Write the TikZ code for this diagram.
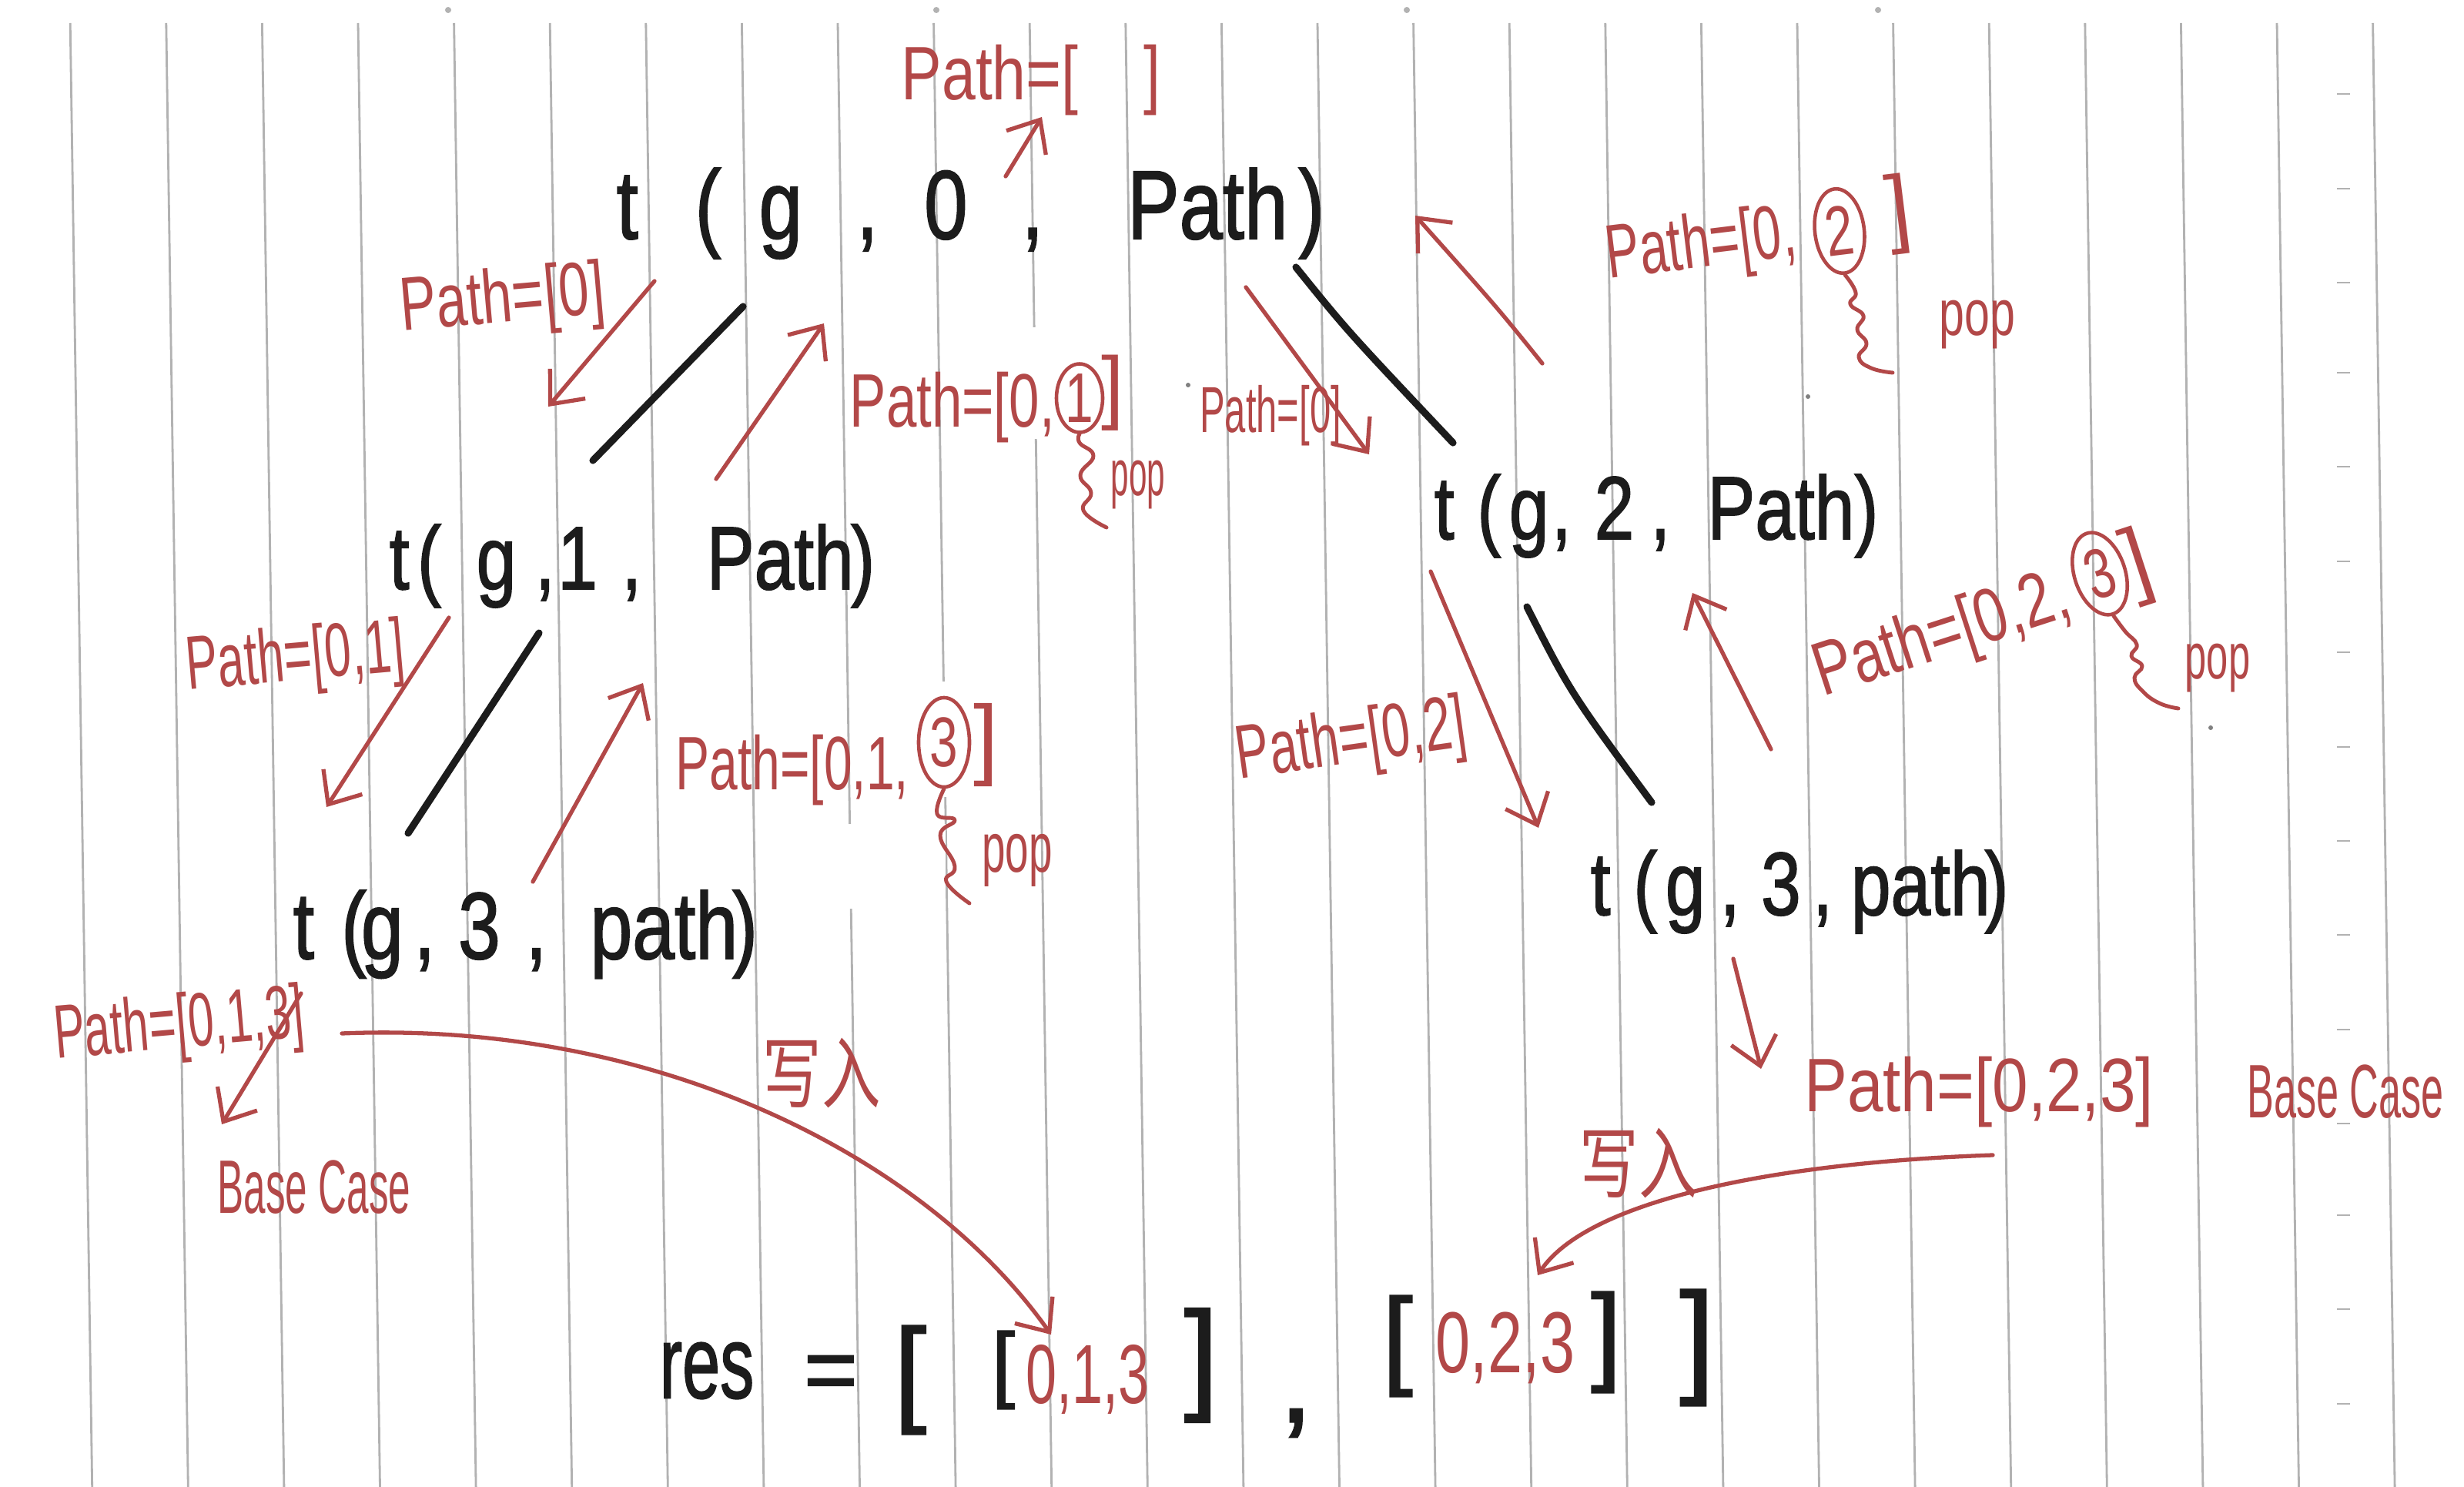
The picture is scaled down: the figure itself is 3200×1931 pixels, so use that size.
\documentclass[tikz,border=0pt]{standalone}
\usepackage{graphicx}
\usepackage{fontspec}
\setmainfont{Liberation Sans}
\newfontfamily\inkfont[FakeBold=1.6]{Liberation Sans}
\newfontfamily\cjkfont{Noto Sans CJK SC}
\usetikzlibrary{arrows.meta,shapes.geometric}
\definecolor{pen}{RGB}{178,72,72}
\definecolor{ink}{RGB}{28,28,28}
\definecolor{rule}{RGB}{178,178,178}
\newcommand{\hwtk}[1]{\scalebox{0.8}[1]{#1}}
\newcommand{\hw}[2]{\scalebox{#1}[1]{#2}}
\begin{document}
\begin{tikzpicture}[x=0.01cm,y=-0.01cm,
  ruleline/.style={draw=rule, line width=0.8pt},
  blk/.style={inner sep=0pt, text=ink, font={\inkfont\fontsize{#1}{#1}\selectfont}},
  lbl/.style={inner sep=0pt, text=pen, font=\fontsize{#1}{#1}\selectfont},
  lbl/.default=28,
  ring/.style={draw=pen, line width=1.3pt, ellipse, inner sep=0pt, text=pen, font=\fontsize{26}{26}\selectfont},
  blackline/.style={draw=ink, line width=2.6pt, line cap=round},
  redarrow/.style={draw=pen, line width=1.5pt, line cap=round, line join=round, -{Straight Barb[length=3.5mm,width=6mm]}},
  redline/.style={draw=pen, line width=1.4pt, line cap=round, line join=round}]
\fill[white] (0,0) rectangle (3200,1931);
\useasboundingbox (0,0) rectangle (3200,1931);
% ruled paper
\foreach \k in {0,...,24} {
  \draw[ruleline] ({105+124.6*\k-13.8},30) -- ({105+124.6*\k+14.7},1931);
}
\foreach \yy in {122,245,367,484,606,729,847,970,1092,1214,1337,1459,1578,1700,1823} {
  \draw[ruleline] (3035,\yy) -- (3052,\yy);
}
\foreach \xx in {582,1216,1827,2439} { \fill[rule] (\xx,13) circle (4); }
\fill[gray] (1543,500) circle (3);
\fill[gray] (2348,515) circle (3);
\fill[gray] (2871,945) circle (3);
% correction tape patches
\fill[white] (1322,425) rectangle (1440,570);
\fill[white] (1170,885) rectangle (1295,1035);
\fill[white] (1064,1070) rectangle (1228,1180);

% black call nodes
\node[blk=36, anchor=base west] (A) at (800,310) {\hwtk{t}\hspace{21pt}\hwtk{(}\hspace{14pt}\hwtk{g}\hspace{20pt}\hwtk{,}\hspace{17pt}\hwtk{0}\hspace{20pt}\hwtk{,}\hspace{31pt}\hwtk{Path}\hspace{4pt}\hwtk{)}};
\node[blk=33, anchor=base west] (B) at (505,765) {\hwtk{t}\hspace{3pt}\hwtk{(}\hspace{13pt}\hwtk{g}\hspace{7pt}\hwtk{,}\hspace{1pt}\hwtk{1}\hspace{9pt}\hwtk{,}\hspace{24pt}\hwtk{Path}\hspace{-1pt}\hwtk{)}};
\node[blk=33, anchor=base west] (C) at (1862,700) {\hwtk{t}\hspace{8.5pt}\hwtk{(}\hspace{3pt}\hwtk{g}\hspace{1pt}\hwtk{,}\hspace{8.5pt}\hwtk{2}\hspace{6pt}\hwtk{,}\hspace{13.7pt}\hwtk{Path}\hspace{0pt}\hwtk{)}};
\node[blk=35, anchor=base west] (D) at (380,1245) {\hwtk{t}\hspace{10pt}\hwtk{(}\hspace{-2pt}\hwtk{g}\hspace{4pt}\hwtk{,}\hspace{8.5pt}\hwtk{3}\hspace{9.4pt}\hwtk{,}\hspace{16pt}\hwtk{path}\hspace{-2pt}\hwtk{)}};
\node[blk=33, anchor=base west] (E) at (2065,1188) {\hwtk{t}\hspace{8.5pt}\hwtk{(}\hspace{3pt}\hwtk{g}\hspace{5.5pt}\hwtk{,}\hspace{7.8pt}\hwtk{3}\hspace{4.4pt}\hwtk{,}\hspace{6.8pt}\hwtk{path}\hspace{-2pt}\hwtk{)}};

% result row
\node[blk=38] (res) at (918,1780) {\hw{0.66}{res}};
\node[blk=34] (eq) at (1079,1790) {=};
\node[blk=43] (lbA) at (1182,1792) {[};
\node[blk=31] (lbB) at (1303,1779) {[};
\node[lbl=31] (resA) at (1412,1791) {\hw{0.66}{0,1,3}};
\node[blk=45] (rbB) at (1560,1773) {]};
\node[blk=44] (cm) at (1683,1848) {,};
\node[blk=40] (lbC) at (1815,1748) {[};
\node[lbl=32] (resB) at (1955,1750) {\hw{0.72}{0,2,3}};
\node[blk=40] (rbC) at (2086,1743) {]};
\node[blk=46] (rbA) at (2204,1750) {]};

% black tree lines
\coordinate (L1s) at (965,398); \coordinate (L1e) at (770,598);
\coordinate (L2s) at (1683,347); \coordinate (L2e) at (1887,575);
\coordinate (L3s) at (700,822); \coordinate (L3e) at (530,1082);
\coordinate (L4s) at (1983,788); \coordinate (L4e) at (2145,1042);
\draw[blackline] (L1s) -- (L1e);
\draw[blackline] (L2s) .. controls (1750,430) .. (L2e);
\draw[blackline] (L3s) -- (L3e);
\draw[blackline] (L4s) .. controls (2040,900) .. (L4e);

% red labels
\node[lbl=28, anchor=base west] (r1) at (1170,130) {\hw{0.8}{Path=[\hspace{30pt}]}};
\node[lbl=28, rotate=5] (r2) at (653,393) {\hw{0.72}{Path=[0]}};
\node[lbl=28, anchor=base west] (r3) at (1103,555) {\hw{0.72}{Path=[0,}};
\node[ring, minimum width=6mm, minimum height=7.6mm] (c1) at (1402,517) {\hw{0.72}{1}};
\node[lbl=30] (r3b) at (1445,510) {]};
\node[lbl=24] (p1) at (1478,630) {\hw{0.5}{pop}};
\node[lbl=24] (r4) at (1650,540) {\hw{0.58}{Path=[0]}};
\node[lbl=28, anchor=base west, rotate=7] (r5) at (2089,362) {\hw{0.67}{Path=[0,}};
\node[ring, rotate=7, minimum width=6.4mm, minimum height=11mm] (c2) at (2389,300) {\hw{0.72}{2}};
\node[lbl=32, rotate=7] (r5b) at (2466,278) {]};
\node[lbl=24] (p2) at (2568,422) {\hw{0.7}{pop}};
\node[lbl=28, rotate=5] (r6) at (384,858) {\hw{0.63}{Path=[0,1]}};
\node[lbl=28, anchor=base west] (r7) at (877,1025) {\hw{0.67}{Path=[0,1,}};
\node[ring, minimum width=6.6mm, minimum height=11.6mm] (c3) at (1226,964) {\hw{0.72}{3}};
\node[lbl=33] (r7b) at (1281,967) {]};
\node[lbl=26] (p3) at (1321,1117) {\hw{0.6}{pop}};
\node[lbl=28, rotate=8] (r8) at (1755,965) {\hw{0.665}{Path=[0,2]}};
\node[lbl=28, anchor=base west, rotate=18] (r9) at (2367,905) {\hw{0.76}{Path=[0,2,}};
\node[ring, rotate=18, minimum width=6.6mm, minimum height=11mm] (c4) at (2727,745) {\hw{0.72}{3}};
\node[lbl=32, rotate=18] (r9b) at (2777,735) {]};
\node[lbl=24] (p4) at (2880,868) {\hw{0.6}{pop}};
\node[lbl=28, rotate=5] (r10) at (233,1335) {\hw{0.61}{Path=[0,1,3]}};
\node[lbl=28] (r11) at (408,1542) {\hw{0.52}{Base Case}};
\node[lbl=28] (r12) at (3046,1418) {\hw{0.53}{Base Case}};
\node[lbl=28] (r13) at (2570,1418) {\hw{0.85}{Path=[0,2,3]}};
\node[lbl=29] (w1) at (1067,1393) {\hw{0.75}{\cjkfont 写入}};
\node[lbl=29] (w2) at (2128,1510) {\hw{0.75}{\cjkfont 写入}};

% pop squiggles
\draw[redline] plot[smooth, tension=0.8] coordinates {(c1.south) (1402,575) (1420,592) (1403,617) (1417,640) (1407,663) (1437,685)};
\draw[redline] plot[smooth, tension=0.8] coordinates {(c2.south) (2410,380) (2403,395) (2420,410) (2412,428) (2424,446) (2414,464) (2430,478) (2458,484)};
\draw[redline] plot[smooth, tension=0.8] coordinates {(c3.south) (1217,1057) (1240,1065) (1221,1085) (1240,1125) (1229,1145) (1259,1173)};
\draw[redline] plot[smooth, tension=0.8] coordinates {(c4.south) (2760,820) (2775,837) (2768,852) (2782,865) (2772,880) (2782,897) (2804,913) (2829,920)};

% red arrows
\coordinate (a1s) at (1306,229); \coordinate (a1e) at (1353,152);
\coordinate (a2s) at (850,365); \coordinate (a2e) at (712,528);
\coordinate (a3s) at (930,622); \coordinate (a3e) at (1070,420);
\coordinate (a4s) at (1618,373); \coordinate (a4e) at (1778,590);
\coordinate (a5s) at (2003,472); \coordinate (a5e) at (1838,280);
\coordinate (a6s) at (583,802); \coordinate (a6e) at (424,1048);
\coordinate (a7s) at (692,1145); \coordinate (a7e) at (835,887);
\coordinate (a8s) at (1858,742); \coordinate (a8e) at (1998,1075);
\coordinate (a9s) at (2300,973); \coordinate (a9e) at (2198,770);
\coordinate (a10s) at (2251,1245); \coordinate (a10e) at (2287,1388);
\coordinate (a11s) at (391,1290); \coordinate (a11e) at (288,1460);
\coordinate (a12s) at (444,1342); \coordinate (a12e) at (1365,1733);
\coordinate (a13s) at (2588,1500); \coordinate (a13e) at (1997,1656);
\draw[redarrow] (a1s) -- (a1e);
\draw[redarrow] (a2s) -- (a2e);
\draw[redarrow] (a3s) -- (a3e);
\draw[redarrow] (a4s) -- (a4e);
\draw[redarrow] (a5s) .. controls (1945,400) .. (a5e);
\draw[redarrow] (a6s) -- (a6e);
\draw[redarrow] (a7s) -- (a7e);
\draw[redarrow] (a8s) -- (a8e);
\draw[redarrow] (a9s) -- (a9e);
\draw[redarrow] (a10s) -- (a10e);
\draw[redarrow] (a11s) -- (a11e);
\draw[redarrow] (a12s) .. controls (850,1325) and (1200,1500) .. (a12e);
\draw[redarrow] (a13s) .. controls (2300,1510) and (2060,1560) .. (a13e);
\end{tikzpicture}
\end{document}
